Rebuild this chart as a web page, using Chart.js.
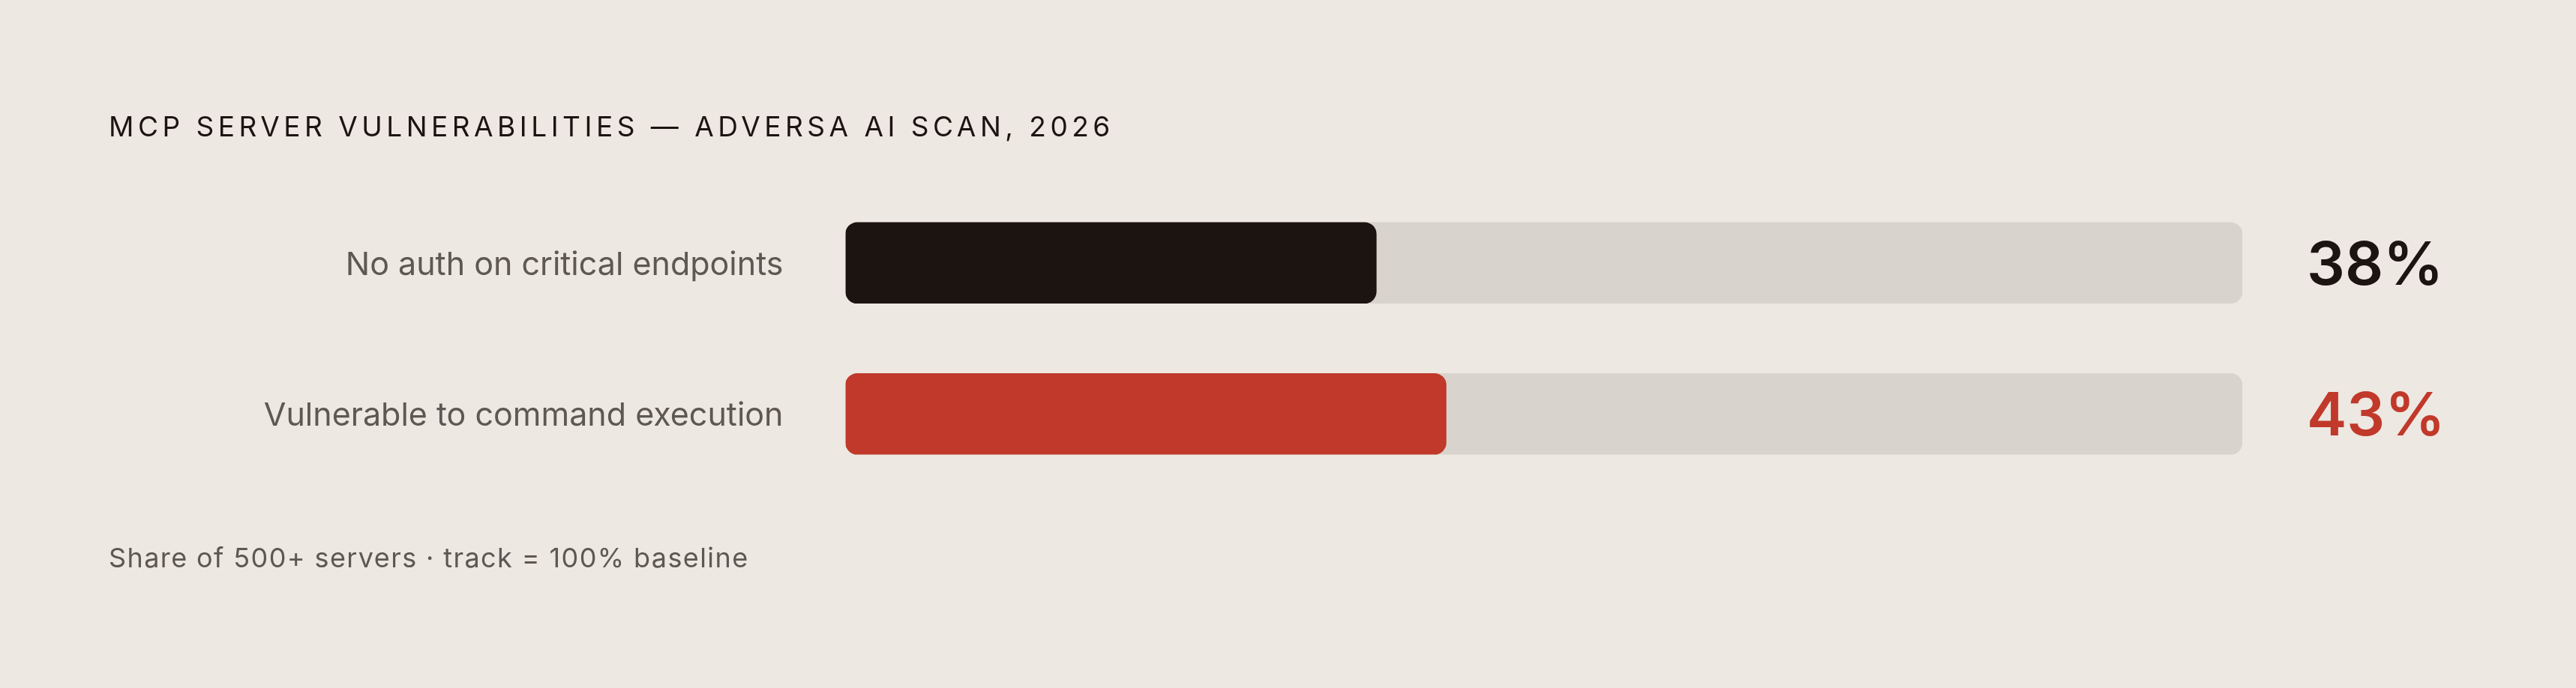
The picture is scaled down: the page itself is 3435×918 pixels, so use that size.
<!DOCTYPE html>
<html>
<head>
<meta charset="utf-8">
<script src="https://cdn.jsdelivr.net/npm/chart.js@4.4.1/dist/chart.umd.min.js"></script>
<style>
  html, body { margin: 0; padding: 0; background: #EDE8E1; }
  #wrap { position: relative; width: 3435px; height: 918px; background: #EDE8E1; overflow: hidden; }
  #title {
    position: absolute; left: 145px; top: 150px;
    font: 400 37px/1 Inter, sans-serif; letter-spacing: 5.5px;
    color: #1C1411; white-space: nowrap;
  }
  #note {
    position: absolute; left: 145px; top: 726px;
    font: 400 36px/1 Inter, sans-serif; letter-spacing: 1.4px;
    color: #5E5853; white-space: nowrap;
  }
  #chart { position: absolute; left: 0; top: 0; width: 3435px; height: 918px; }
</style>
</head>
<body>
<div id="wrap">
  <div id="chart"><canvas id="bars"></canvas></div>
  <div id="title">MCP SERVER VULNERABILITIES — ADVERSA AI SCAN, 2026</div>
  <div id="note">Share of 500+ servers · track = 100% baseline</div>
</div>
<script>
// Data
const categories = ['No auth on critical endpoints', 'Vulnerable to command execution'];
const shares = [38, 43];
const track = [100, 100];

// Styles
const barColors = ['#1C1411', '#C0392B'];
const trackColor = '#D8D3CC';
const labelColor = '#5E5853';

// Draws the big percentage next to each track
const valueLabels = {
  id: 'valueLabels',
  afterDatasetsDraw(chart) {
    const { ctx, chartArea } = chart;
    const meta = chart.getDatasetMeta(0);
    ctx.save();
    ctx.font = '600 80px Inter, sans-serif';
    ctx.textAlign = 'left';
    ctx.textBaseline = 'alphabetic';
    meta.data.forEach((bar, i) => {
      ctx.fillStyle = barColors[i];
      ctx.fillText(shares[i] + '%', chartArea.right + 86, bar.y + 29);
    });
    ctx.restore();
  }
};

const chart = new Chart(document.getElementById('bars'), {
  type: 'bar',
  data: {
    labels: categories,
    datasets: [{
      label: 'Share',
      data: shares,
      backgroundColor: barColors,
      borderRadius: 16,
      borderSkipped: false,
      barThickness: 108,
      grouped: false,
      order: 1
    }, {
      label: 'Track',
      data: track,
      backgroundColor: trackColor,
      borderRadius: 16,
      borderSkipped: false,
      barThickness: 108,
      grouped: false,
      order: 2
    }]
  },
  options: {
    indexAxis: 'y',
    responsive: true,
    maintainAspectRatio: false,
    animation: false,
    layout: {
      padding: { top: 250, bottom: 265, left: 0, right: 445 }
    },
    plugins: {
      legend: { display: false },
      tooltip: { enabled: false }
    },
    scales: {
      x: {
        display: false,
        min: 0,
        max: 100
      },
      y: {
        grid: { display: false },
        border: { display: false },
        ticks: {
          color: labelColor,
          padding: 75,
          labelOffset: 3,
          font: { family: 'Inter, sans-serif', size: 43, weight: '400' }
        },
        afterFit(scale) {
          scale.width = 1127.5;
        }
      }
    }
  },
  plugins: [valueLabels]
});
</script>
</body>
</html>
